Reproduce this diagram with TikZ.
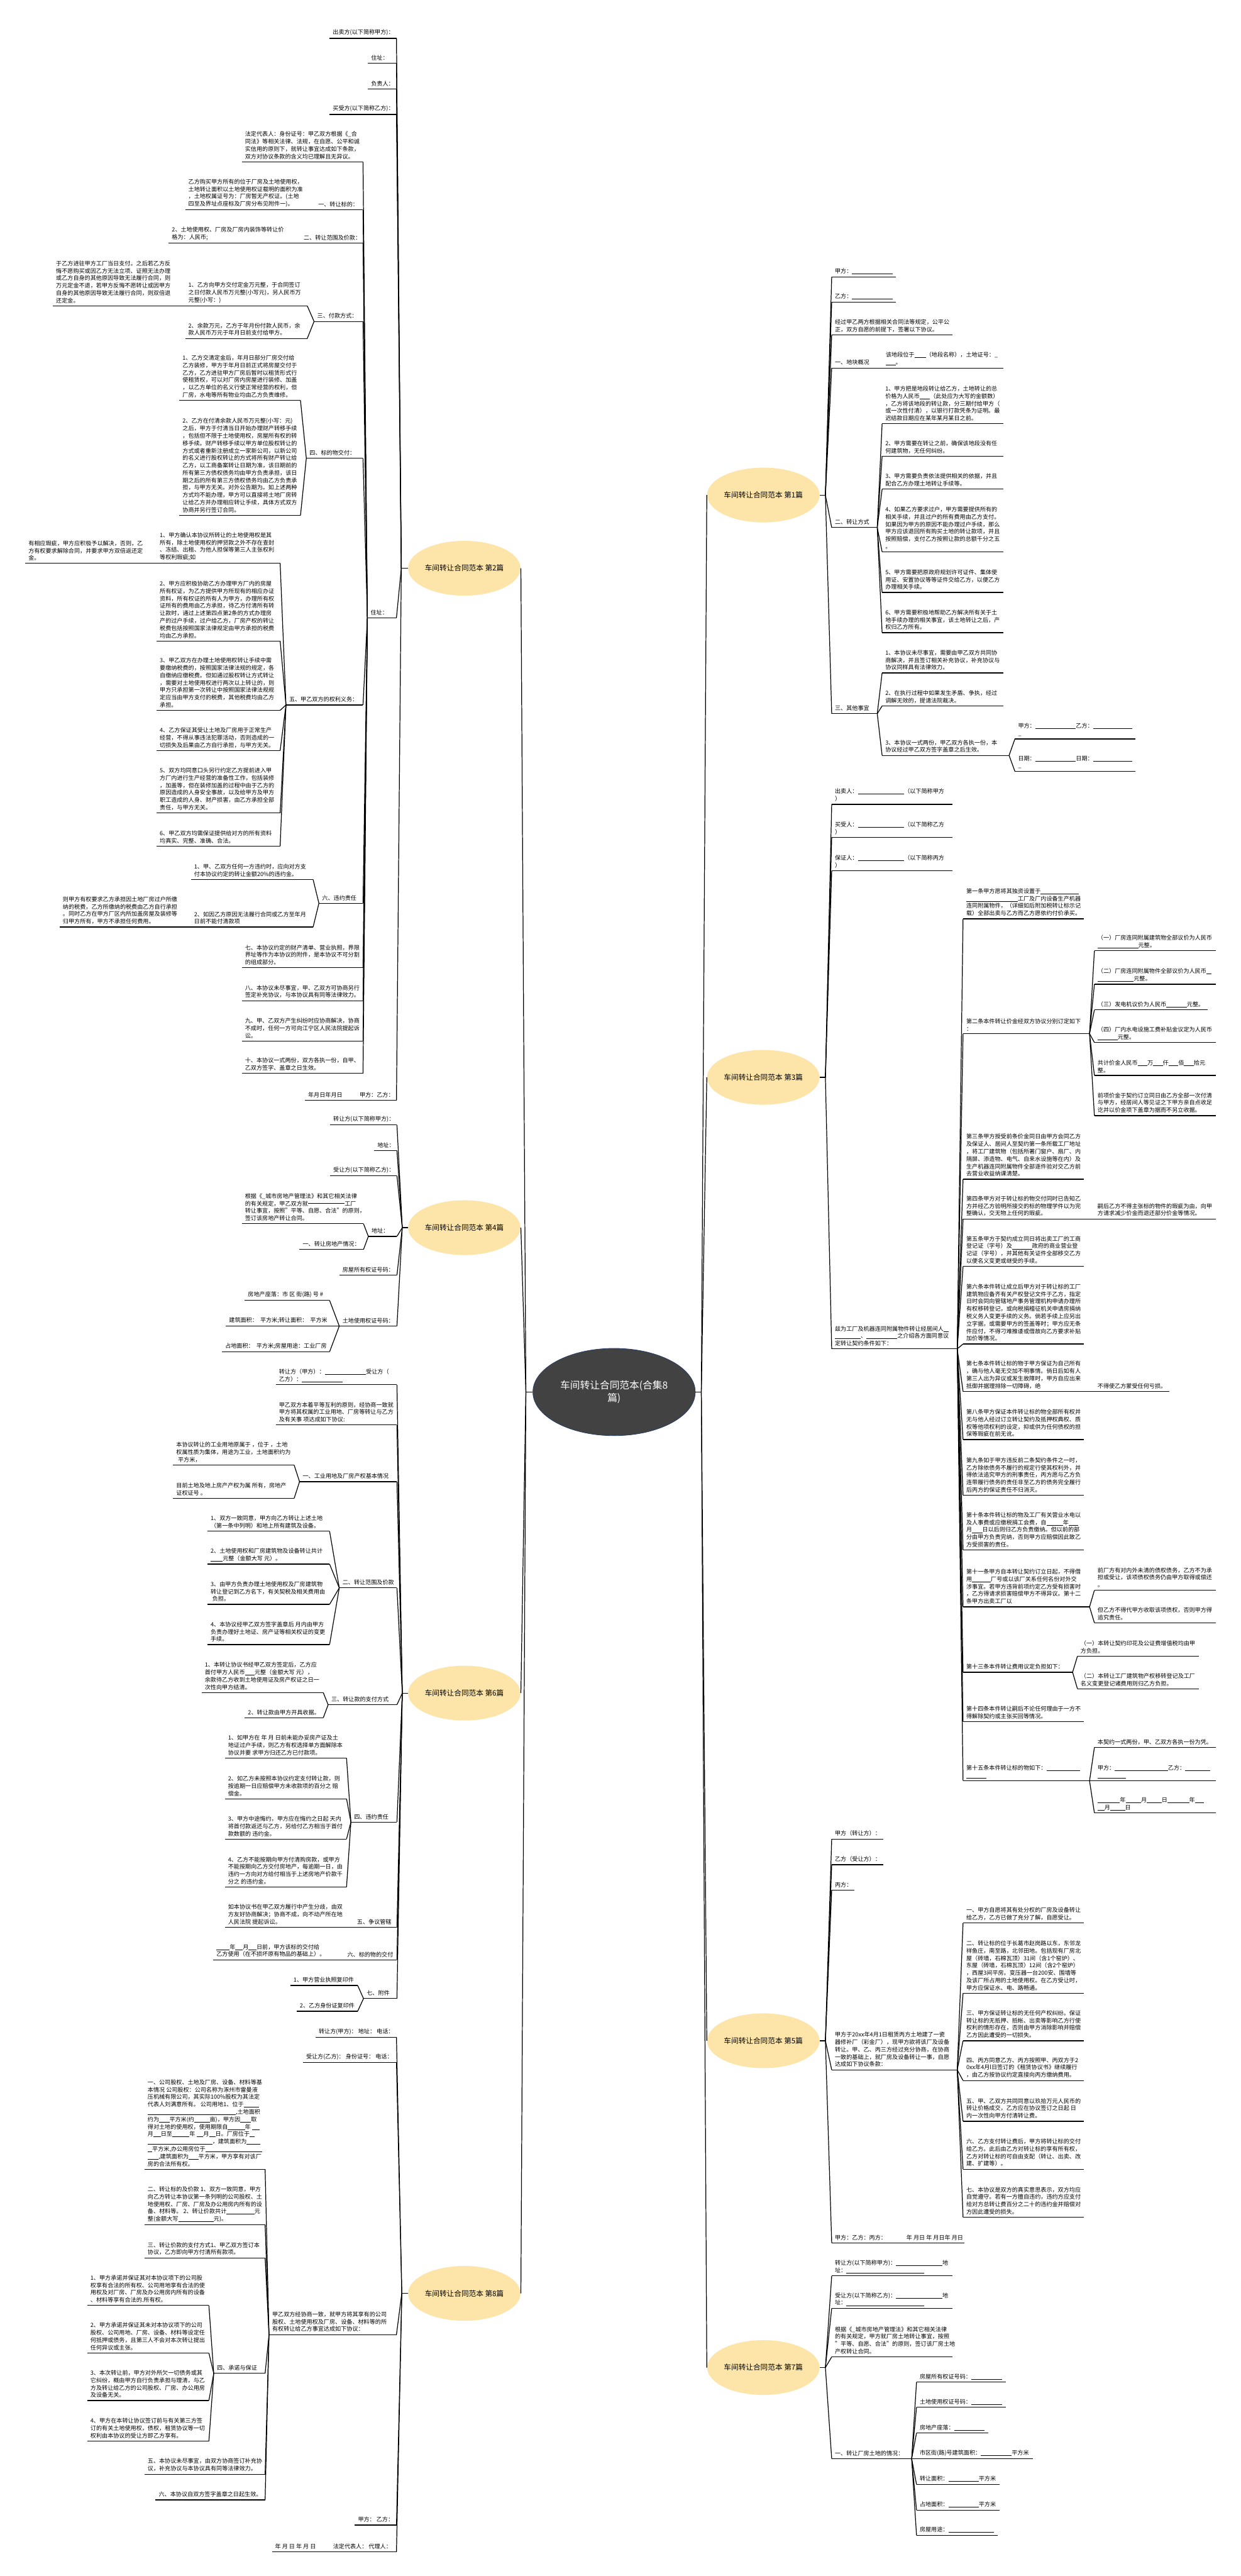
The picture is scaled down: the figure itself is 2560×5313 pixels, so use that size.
\documentclass[tikz,border=0pt]{standalone}
\usepackage{fontspec}
\setmainfont{Noto Sans CJK SC}
\usetikzlibrary{shapes.geometric}
\definecolor{byel}{RGB}{253,229,170}
\definecolor{cdark}{RGB}{66,66,66}
\definecolor{cbord}{RGB}{40,60,100}
\newcommand\blk[1]{\rule[-0.12em]{#1em}{0.06em}}
\newcommand\lfn[5]{\coordinate (#1L) at (#2,#4);\coordinate (#1R) at (#3,#4);\node[txt] (#1) at (#2+6,#4-5) {#5};\draw[ln] (#1L) -- (#1R);}
\newcommand\cnL[2]{\draw[ln] (#1) -- (#2R);}
\newcommand\cnR[2]{\draw[ln] (#1) -- (#2L);}
\begin{document}
\begin{tikzpicture}[x=0.1mm,y=-0.1mm,
 txt/.style={anchor=south west,align=left,inner sep=0pt,font=\fontsize{3.36pt}{4.35pt}\selectfont},
 ln/.style={line width=0.45pt,black},
 branch/.style={ellipse,fill=byel,draw=none,minimum width=23.2mm,minimum height=11.3mm,inner sep=0pt,font=\fontsize{4.3pt}{5.2pt}\selectfont},
 central/.style={ellipse,fill=cdark,draw=cbord,line width=0.3pt,minimum width=33.5mm,minimum height=18mm,inner sep=0pt,text=white,align=center,font=\fontsize{5.8pt}{7.2pt}\selectfont}]
\fill[white] (0,0) rectangle (2560,5313);
\useasboundingbox (0,0) rectangle (2560,5313);

% ---------- central ----------
\node[central] (c) at (1267,2871) {车间转让合同范本(合集8\\篇)};
\coordinate (cJL) at (1085,2871);
\coordinate (cJR) at (1447,2871);
\node[branch] (b2) at (958,1172) {车间转让合同范本 第2篇};
\node[branch] (b4) at (958,2532) {车间转让合同范本 第4篇};
\node[branch] (b6) at (958,3492) {车间转让合同范本 第6篇};
\node[branch] (b8) at (958,4730) {车间转让合同范本 第8篇};
\node[branch] (b1) at (1575,1021) {车间转让合同范本 第1篇};
\node[branch] (b3) at (1575,2222) {车间转让合同范本 第3篇};
\node[branch] (b5) at (1575,4209) {车间转让合同范本 第5篇};
\node[branch] (b7) at (1575,4883) {车间转让合同范本 第7篇};
\draw[ln] (c.west) -- (cJL);
\draw[ln] (c.east) -- (cJR);
\foreach \b in {b2,b4,b6,b8} {\draw[ln] (cJL) -- (\b.east);}
\foreach \b in {b1,b3,b5,b7} {\draw[ln] (cJR) -- (\b.west);}

% ---------- 第2篇 ----------
\coordinate (b2J) at (828,1172);
\draw[ln] (b2.west) -- (b2J);
\lfn{p2a}{680}{818}{79}{出卖方(以下简称甲方)：}
\lfn{p2b}{759}{818}{130}{住址：}
\lfn{p2c}{759}{818}{184}{负责人：}
\lfn{p2d}{680}{818}{236}{买受方(以下简称乙方)：}
\lfn{p2e}{758}{818}{1274}{住址：}
\lfn{p2f}{629}{818}{2269}{年月日年月日\hspace{3em}甲方：乙方：}
\foreach \n in {p2a,p2b,p2c,p2d,p2e,p2f} {\cnL{b2J}{\n}}

\lfn{q1}{499}{749}{334}{法定代表人：身份证号：甲乙双方根据《\_合\\同法》等相关法律、法规，在自愿、公平和诚\\实信用的原则下，就转让事宜达成如下条款，\\双方对协议条款的含义均已理解且无异议。}
\lfn{q2}{650}{749}{433}{一、转让标的：}
\lfn{q2a}{382}{650}{433}{乙方购买甲方所有的位于厂房及土地使用权，\\土地转让面积以土地使用权证载明的面积为准\\，土地权属证号为：厂房暂无产权证。(土地\\四至及界址点座标及厂房分布见附件一)。}
\lfn{q3}{620}{749}{501}{二、转让范围及价款：}
\lfn{q3a}{348}{620}{501}{2、土地使用权、厂房及厂房内装饰等转让价\\格为：人民币;}
\lfn{q4}{648}{749}{663}{三、付款方式：}
\lfn{q4a}{382}{634}{631}{1、乙方向甲方交付定金万元整，于合同签订\\之日付款人民币万元整(小写元)，另人民币万\\元整(小写：)}
\lfn{q4a1}{109}{382}{631}{于乙方进驻甲方工厂当日支付。之后若乙方反\\悔不愿购买或因乙方无法立项、证照无法办理\\或乙方自身的其他原因导致无法履行合同，则\\万元定金不退，若甲方反悔不愿转让或因甲方\\自身的其他原因导致无法履行合同，则双倍退\\还定金。}
\lfn{q4b}{382}{634}{698}{2、余款万元，乙方于年月份付款人民币，余\\款人民币万元于年月日前支付给甲方。}
\lfn{q5}{632}{749}{945}{四、标的物交付：}
\lfn{q5a}{370}{620}{826}{1、乙方交清定金后，年月日部分厂房交付给\\乙方装修，甲方于年月日前正式将房屋交付于\\乙方，乙方进驻甲方厂房后暂时以租赁形式行\\使租赁权，可以对厂房内房屋进行装修、加盖\\，以乙方单位的名义行使正常经营的权利，但\\厂房，水电等所有物业均由乙方负责维修。}
\lfn{q5b}{370}{620}{1063}{2、乙方在付清余款人民币万元整(小写：元)\\之后，甲方于付清当日开始办理财产转移手续\\，包括但不限于土地使用权，房屋所有权的转\\移手续。财产转移手续以甲方单位股权转让的\\方式或者重新注册成立一家新公司，以新公司\\的名义进行股权转让的方式将所有财产转让给\\乙方，以工商备案转让日期为准，该日期前的\\所有第三方债权债务均由甲方负责承担，该日\\期之后的所有第三方债权债务均由乙方负责承\\担，与甲方无关。对外公告期为。如上述两种\\方式均不能办理，甲方可以直接将土地厂房转\\让给乙方并办理相应转让手续，具体方式双方\\协商并另行签订合同。}
\lfn{q6}{590}{749}{1454}{五、甲乙双方的权利义务：}
\lfn{q6a}{323}{578}{1162}{1、甲方确认本协议所转让的土地使用权是其\\所有，除土地使用权的押贷款之外不存在查封\\、冻结、出租、为他人担保等第三人主张权利\\等权利瑕疵;如}
\lfn{q6a1}{52}{323}{1162}{有相应瑕疵，甲方应积极予以解决，否则，乙\\方有权要求解除合同，并要求甲方双倍返还定\\金。}
\lfn{q6b}{323}{578}{1322}{2、甲方应积极协助乙方办理甲方厂内的房屋\\所有权证，为乙方提供甲方所现有的相应办证\\资料，所有权证的所有人为甲方，办理所有权\\证所有的费用由乙方承担，待乙方付清所有转\\让款时，通过上述第四点第2条的方式办理房\\产的过户手续，过户给乙方，厂房产权的转让\\税费包括按照国家法律规定由甲方承担的税费\\均由乙方承担。}
\lfn{q6c}{323}{578}{1465}{3、甲乙双方在办理土地使用权转让手续中需\\要缴纳税费的，按照国家法律法规的规定，各\\自缴纳应缴税费。但如通过股权转让方式转让\\，需要对土地使用权进行两次以上转让的，则\\甲方只承担第一次转让中按照国家法律法规规\\定应当由甲方支付的税费，其他税费均由乙方\\承担。}
\lfn{q6d}{323}{578}{1548}{4、乙方保证其受让土地及厂房用于正常生产\\经营，不得从事违法犯罪活动，否则造成的一\\切损失及后果由乙方自行承担，与甲方无关。}
\lfn{q6e}{323}{578}{1677}{5、双方均同意口头另行约定乙方提前进入甲\\方厂内进行生产经营的准备性工作，包括装修\\，加盖等，但在装修加盖的过程中由于乙方的\\原因造成的人身安全事故，以及给甲方及甲方\\职工造成的人身、财产损害，由乙方承担全部\\责任，与甲方无关。}
\lfn{q6f}{323}{578}{1745}{6、甲乙双方均需保证提供给对方的所有资料\\均真实、完整、准确、合法。}
\lfn{q7}{658}{749}{1863}{六、违约责任}
\lfn{q7a}{394}{646}{1814}{1、甲、乙双方任何一方违约时，应向对方支\\付本协议约定的转让金额20\%的违约金。}
\lfn{q7b}{394}{646}{1912}{2、如因乙方原因无法履行合同或乙方至年月\\日前不能付清款项}
\lfn{q7b1}{123}{394}{1912}{则甲方有权要求乙方承担因土地厂房过户所缴\\纳的税费，乙方所缴纳的税费由乙方自行承担\\。同时乙方在甲方厂区内所加盖房屋及装修等\\归甲方所有，甲方不承担任何费用。}
\lfn{q8}{499}{749}{1996}{七、本协议约定的财产清单、营业执照，界限\\界址等作为本协议的附件，是本协议不可分割\\的组成部分。}
\lfn{q9}{499}{749}{2064}{八、本协议未尽事宜，甲、乙双方可协商另行\\签定补充协议，与本协议具有同等法律效力。}
\lfn{q10}{499}{749}{2147}{九、甲、乙双方产生纠纷时应协商解决，协商\\不成时，任何一方可向江宁区人民法院提起诉\\讼。}
\lfn{q11}{499}{749}{2214}{十、本协议一式两份，双方各执一份，自甲、\\乙双方签字、盖章之日生效。}
\foreach \n in {q1,q2,q3,q4,q5,q6,q7,q8,q9,q10,q11} {\cnL{p2eL}{\n}}
\cnL{q2L}{q2a}
\cnL{q3L}{q3a}
\cnL{q4L}{q4a}
\cnL{q4L}{q4b}
\cnL{q4aL}{q4a1}
\cnL{q5L}{q5a}
\cnL{q5L}{q5b}
\foreach \n in {q6a,q6b,q6c,q6d,q6e,q6f} {\cnL{q6L}{\n}}
\cnL{q6aL}{q6a1}
\cnL{q7L}{q7a}
\cnL{q7L}{q7b}
\cnL{q7bL}{q7b1}

% ---------- 第1篇 ----------
\coordinate (b1J) at (1703,1021);
\draw[ln] (b1.east) -- (b1J);
\lfn{r1}{1716}{1848}{571}{甲方：\blk{7.1}}
\lfn{r2}{1716}{1848}{623}{乙方：\blk{7.1}}
\lfn{r3}{1716}{1965}{691}{经过甲乙两方根据相关合同法等规定，公平公\\正，双方自愿的前提下，签署以下协议。}
\lfn{r4}{1716}{1821}{759}{一、地块概况}
\lfn{r4a}{1821}{2070}{759}{该地段位于\blk{2}（地段名称），土地证号：\_\\\blk{1.7}。}
\lfn{r5}{1716}{1810}{1088}{二、转让方式}
\lfn{r5a}{1820}{2070}{874}{1、甲方把是地段转让给乙方，土地转让的总\\价格为人民币\blk{1.8}（此处应为大写的金额数）\\，乙方将该地段的转让款，分三期付给甲方（\\或一次性付清），以银行打款凭条为证明。最\\迟结款日期应在某年某月某日之前。}
\lfn{r5b}{1820}{2070}{941}{2、甲方需要在转让之前，确保该地段没有任\\何建筑物，无任何纠纷。}
\lfn{r5c}{1820}{2070}{1009}{3、甲方需要负责依法提供相关的依据，并且\\配合乙方办理土地转让手续等。}
\lfn{r5d}{1820}{2070}{1138}{4、如果乙方要求过户，甲方需要提供所有的\\相关手续，并且过户的所有费用由乙方支付。\\如果因为甲方的原因不能办理过户手续，那么\\甲方应该退回所有购买土地的转让款项，并且\\按照赔偿，支付乙方按照让款的总额千分之五\\。}
\lfn{r5e}{1820}{2070}{1222}{5、甲方需要把原政府规划许可证件、集体使\\用证、安置协议等等证件交给乙方，以便乙方\\办理相关手续。}
\lfn{r5f}{1820}{2070}{1305}{6、甲方需要积极地帮助乙方解决所有关于土\\地手续办理的相关事宜，该土地转让之后，产\\权归乙方所有。}
\lfn{r6}{1716}{1810}{1472}{三、其他事宜}
\lfn{r6a}{1820}{2070}{1388}{1、本协议未尽事宜，需要由甲乙双方共同协\\商解决，并且签订相关补充协议，补充协议与\\协议同样具有法律效力。}
\lfn{r6b}{1820}{2070}{1456}{2、在执行过程中如果发生矛盾、争执，经过\\调解无效的，提请法院裁决。}
\lfn{r6c}{1820}{2082}{1558}{3、本协议一式两份，甲乙双方各执一份，本\\协议经过甲乙双方签字盖章之后生效。}
\lfn{r6c1}{2094}{2342}{1524}{甲方：\blk{7.1}乙方：\blk{6.8}\\\_}
\lfn{r6c2}{2094}{2342}{1591}{日期：\blk{7.1}日期：\blk{6.8}\\\_}
\foreach \n in {r1,r2,r3,r4,r5,r6} {\cnR{b1J}{\n}}
\cnR{r4R}{r4a}
\foreach \n in {r5a,r5b,r5c,r5d,r5e,r5f} {\cnR{r5R}{\n}}
\foreach \n in {r6a,r6b,r6c} {\cnR{r6R}{\n}}
\cnR{r6cR}{r6c1}
\cnR{r6cR}{r6c2}

% ---------- 第3篇 ----------
\coordinate (b3J) at (1703,2222);
\draw[ln] (b3.east) -- (b3J);
\lfn{s1}{1716}{1965}{1659}{出卖人：\blk{8.1}（以下简称甲方\\）}
\lfn{s2}{1716}{1965}{1727}{买受人：\blk{8.1}（以下简称乙方\\）}
\lfn{s3}{1716}{1965}{1796}{保证人：\blk{8.1}（以下简称丙方\\）}
\lfn{s4}{1716}{1975}{2782}{兹为工厂及机器连同附属物件转让经居间人\blk{0.9}\\\blk{4.5}、\blk{5.4}之介绍各方面同意议\\定转让契约条件如下：}
\foreach \n in {s1,s2,s3,s4} {\cnR{b3J}{\n}}
\lfn{s4a}{1987}{2236}{1895}{第一条甲方愿将其独资设置于\blk{6.7}\\\blk{9}工厂及厂内设备生产机器\\连同附属物件，（详细如后附加税转让标示记\\载）全部出卖与乙方而乙方愿依约付价承买。}
\lfn{s4b}{1987}{2248}{2132}{第二条本件转让价金经双方协议分别订定如下\\：}
\lfn{s4b1}{2258}{2509}{1961}{（一）厂房连同附属建筑物全部议价为人民币\\\blk{7.1}元整。}
\lfn{s4b2}{2258}{2509}{2030}{（二）厂房连同附属物件全部议价为人民币\blk{0.9}\\\blk{6.3}元整。}
\lfn{s4b3}{2258}{2492}{2083}{（三）发电机议价为人民币\blk{3.6}元整。}
\lfn{s4b4}{2258}{2509}{2150}{（四）厂内水电设施工费补贴金议定为人民币\\\blk{3.5}元整。}
\lfn{s4b5}{2258}{2509}{2218}{共计价金人民币\blk{1.7}万\blk{1.7}仟\blk{1.7}佰\blk{1.7}拾元\\整。}
\lfn{s4b6}{2258}{2509}{2301}{前项价金于契约订立同日由乙方全部一次付清\\与甲方，经居间人等见证之下甲方亲自点收足\\讫并以价金项下盖章为据而不另立收据。}
\lfn{s4c}{1987}{2236}{2432}{第三条甲方授受前条价金同日由甲方会同乙方\\及保证人、居间人至契约第一条所载工厂地址\\，将工厂建筑物（包括所著门窗户、扇厂、内\\隔屏、添造物、电气、自来水设施等在内）及\\生产机器连同附属物件全部逐件验对交乙方前\\去营业收益纳课清楚。}
\lfn{s4d}{1987}{2248}{2514}{第四条甲方对于转让标的物交付同时已告知乙\\方并经乙方验明所接交的标的物理学件以为完\\整确认，交无物上任何的瑕疵。}
\lfn{s4d1}{2258}{2509}{2514}{嗣后乙方不得主张标的物件的瑕疵为由，向甲\\方请求减少价金而退还部分价金等情况。}
\lfn{s4e}{1987}{2236}{2612}{第五条甲方于契约成立同日将出卖工厂的工商\\登记证（字号）及\blk{3.5}政府的商业营业登\\记证（字号），并其他有关证件全部移交乙方\\以便名义变更或继受的手续。}
\lfn{s4f}{1987}{2236}{2772}{第六条本件转让成立后甲方对于转让标的工厂\\建筑物应备齐有关产权登记文件于乙方，指定\\日时会同向管辖地产事务管理机构申请办理所\\有权移转登记，或向税捐稽征机关申请房捐纳\\税义务人变更手续的义务。倘若手续上应另出\\立字据，或需要甲方的签盖等时；甲方应无条\\件应付，不得刁难推诿或借故向乙方要求补贴\\加价等情况。}
\lfn{s4g}{1987}{2248}{2870}{第七条本件转让标的物于甲方保证为自己所有\\，确与他人毫无交加不明事情。倘日后如有人\\第三人出为异议或发生故障时，甲方自应出来\\抵御并据理排除一切障碍，绝}
\lfn{s4g1}{2258}{2413}{2870}{不得使乙方蒙受任何亏损。}
\lfn{s4h}{1987}{2236}{2969}{第八条甲方保证本件转让标的物全部所有权并\\无与他人经过订立转让契约及抵押权典权、质\\权等他项权利的设定，抑或供为任何债权的担\\保等瑕疵在前无讹。}
\lfn{s4i}{1987}{2236}{3084}{第九条如于甲方违反前二条契约条件之一时，\\乙方除依债务不履行的规定行使其权利外，并\\得依法追究甲方的刑事责任，丙方愿与乙方负\\连带履行债务的责任非至乙方的债务完全履行\\后丙方的保证责任不归消灭。}
\lfn{s4j}{1987}{2236}{3197}{第十条本件转让标的物及工厂有关营业水电以\\及人事费或应缴税捐工会费，自\blk{2.9}年\blk{1.6}\\月\blk{1.8}日以后则归乙方负责缴纳。但以前的部\\分由甲方负责完纳，否则甲方应赔偿因此致乙\\方受损害的责任。}
\lfn{s4k}{1987}{2248}{3314}{第十一条甲方自本转让契约订立日起，不得借\\用\blk{3.3}厂号或以该厂关系任何名份对外交\\涉事宜。若甲方违背前项约定乙方受有损害时\\，乙方得请求损害赔偿甲方不得异议。第十二\\条甲方出卖工厂以}
\lfn{s4k1}{2258}{2509}{3280}{前厂方有对内外未清的债权债务，乙方不为承\\担或受让，该项债权债务仍由甲方取得或偿还\\。}
\lfn{s4k2}{2258}{2509}{3347}{但乙方不得代甲方收取该项债权，否则甲方得\\追究责任。}
\lfn{s4l}{1987}{2213}{3449}{第十三条本件转让费用议定负担如下：}
\lfn{s4l1}{2223}{2473}{3416}{（一）本转让契约印花及公证费增值税均由甲\\方负担。}
\lfn{s4l2}{2223}{2473}{3483}{（二）本转让工厂建筑物产权移转登记及工厂\\名义变更登记诸费用则归乙方负担。}
\lfn{s4m}{1987}{2236}{3551}{第十四条本件转让嗣后不论任何理由于一方不\\得解除契约或主张买回等情况。}
\lfn{s4n}{1987}{2248}{3673}{第十五条本件转让标的物如下：\blk{5.9}\\\blk{3.5}}
\lfn{s4n1}{2258}{2509}{3604}{本契约一式两份，甲、乙双方各执一份为凭。}
\lfn{s4n2}{2258}{2509}{3673}{甲方：\blk{9.3}乙方：\blk{4.4}\\\blk{4.9}}
\lfn{s4n3}{2258}{2509}{3739}{\blk{3.9}年\blk{2.7}月\blk{2.6}日\blk{3.8}年\blk{1.6}\\\blk{1.2}月\blk{2.6}日}
\foreach \n in {s4a,s4b,s4c,s4d,s4e,s4f,s4g,s4h,s4i,s4j,s4k,s4l,s4m,s4n} {\cnR{s4R}{\n}}
\foreach \n in {s4b1,s4b2,s4b3,s4b4,s4b5,s4b6} {\cnR{s4bR}{\n}}
\cnR{s4dR}{s4d1}
\cnR{s4gR}{s4g1}
\cnR{s4kR}{s4k1}
\cnR{s4kR}{s4k2}
\cnR{s4lR}{s4l1}
\cnR{s4lR}{s4l2}
\foreach \n in {s4n1,s4n2,s4n3} {\cnR{s4nR}{\n}}

% ---------- 第4篇 ----------
\coordinate (b4J) at (830,2532);
\draw[ln] (b4.west) -- (b4J);
\lfn{t1}{681}{819}{2320}{转让方(以下简称甲方)：}
\lfn{t2}{772}{819}{2373}{地址：}
\lfn{t3}{681}{819}{2425}{受让方(以下简称乙方)：}
\lfn{t4}{760}{819}{2550}{地址：}
\lfn{t5}{700}{819}{2630}{房屋所有权证号码：}
\lfn{t6}{700}{819}{2735}{土地使用权证号码：}
\foreach \n in {t1,t2,t3,t4,t5,t6} {\cnL{b4J}{\n}}
\lfn{t4a}{499}{750}{2524}{根据《\_城市房地产管理法》和其它相关法律\\的有关规定，甲乙双方就\rule[0.38em]{6.4em}{0.05em}工厂\\转让事宜，按照"平等、自愿、合法"的原则，\\签订该房地产转让合同。}
\lfn{t4b}{618}{750}{2577}{一、转让房地产情况：}
\cnL{t4L}{t4a}
\cnL{t4L}{t4b}
\lfn{t6a}{505}{680}{2682}{房地产座落：市 区 街(路) 号 \#}
\lfn{t6b}{466}{690}{2735}{建筑面积：\ \ 平方米;转让面积：\ \ 平方米}
\lfn{t6c}{458}{680}{2788}{占地面积：\ \ 平方米;房屋用途：工业厂房}
\foreach \n in {t6a,t6b,t6c} {\cnL{t6L}{\n}}

% ---------- 第6篇 ----------
\coordinate (b6J) at (830,3492);
\draw[ln] (b6.west) -- (b6J);
\lfn{u1}{569}{819}{2856}{转让方（甲方）：\blk{7.2}受让方（\\乙方）：\blk{7.1}}
\lfn{u2}{569}{819}{2939}{甲乙双方本着平等互利的原则，经协商一致就\\甲方将其权属的工业用地、厂房等转让与乙方\\及有关事 项达成如下协议:}
\lfn{u3}{618}{819}{3056}{一、工业用地及厂房产权基本情况}
\lfn{u4}{700}{819}{3275}{二、转让范围及价款}
\lfn{u5}{677}{819}{3516}{三、转让款的支付方式}
\lfn{u6}{724}{819}{3758}{四、违约责任}
\lfn{u7}{730}{819}{3975}{五、争议管辖}
\lfn{u8}{710}{819}{4042}{六、标的物的交付}
\lfn{u9}{750}{819}{4122}{七、附件}
\foreach \n in {u1,u2,u3,u4,u5,u6,u7,u8,u9} {\cnL{b6J}{\n}}
\lfn{u3a}{357}{607}{3022}{本协议转让的工业用地原属于 ，位于 ，土地\\权属性质为集体，用途为工业，土地面积约为\\\hspace{0.3em}平方米，}
\lfn{u3b}{357}{607}{3090}{目前土地及地上房产产权为属 所有，房地产\\证权证号 。}
\cnL{u3L}{u3a}
\cnL{u3L}{u3b}
\lfn{u4a}{428}{680}{3158}{1、双方一致同意，甲方向乙方转让上述土地\\（第一条中列明）和地上所有建筑及设备。}
\lfn{u4b}{428}{680}{3226}{2、土地使用权和厂房建筑物及设备转让共计\\\blk{2.1}元整（金额大写 元）。}
\lfn{u4c}{428}{680}{3309}{3、由甲方负责办理土地使用权及厂房建筑物\\转让登记到乙方名下，有关契税及相关费用由\\\hspace{0.3em}负担。}
\lfn{u4d}{428}{680}{3392}{4、本协议经甲乙双方签字盖章后 月内由甲方\\负责办理好土地证、房产证等相关权证的变更\\手续。}
\foreach \n in {u4a,u4b,u4c,u4d} {\cnL{u4L}{\n}}
\lfn{u5a}{416}{667}{3491}{1、本转让协议书经甲乙双方签定后，乙方应\\首付甲方人民币\blk{1.7}元整（金额大写 元），\\余款待乙方收到土地使用证及房产权证之日一\\次性向甲方结清。}
\lfn{u5b}{505}{667}{3543}{2、转让款由甲方开具收据。}
\cnL{u5L}{u5a}
\cnL{u5L}{u5b}
\lfn{u6a}{464}{715}{3626}{1、如甲方在 年 月 日前未能办妥房产证及土\\地证过户手续，则乙方有权选择单方面解除本\\协议并要 求甲方归还乙方已付款项。}
\lfn{u6b}{464}{715}{3710}{2、如乙方未按照本协议约定支付转让款，则\\按逾期一日应赔偿甲方未收款项的百分之 赔\\偿金。}
\lfn{u6c}{464}{715}{3793}{3、甲方中途悔约，甲方应在悔约之日起 天内\\将首付款返还与乙方，另给付乙方相当于首付\\款数额的 违约金。}
\lfn{u6d}{464}{715}{3892}{4、乙方不能按期向甲方付清购房款，或甲方\\不能按期向乙方交付房地产，每逾期一日，由\\违约一方向对方给付相当于上述房地产价款千\\分之 的违约金。}
\foreach \n in {u6a,u6b,u6c,u6d} {\cnL{u6L}{\n}}
\lfn{u7a}{464}{730}{3975}{如本协议书在甲乙双方履行中产生分歧，由双\\方友好协商解决；协商不成，向不动产所在地\\人民法院 提起诉讼。}
\cnL{u7L}{u7a}
\lfn{u8a}{440}{710}{4042}{\blk{2.3}年\blk{1.3}月\blk{1.4}日前，甲方该标的交付给\\乙方使用（在不损坏原有物品的基础上）。}
\cnL{u8L}{u8a}
\lfn{u9a}{599}{738}{4095}{1、甲方营业执照复印件}
\lfn{u9b}{612}{738}{4148}{2、乙方身份证复印件}
\cnL{u9L}{u9a}
\cnL{u9L}{u9b}

% ---------- 第8篇 ----------
\coordinate (b8J) at (829,4730);
\draw[ln] (b8.west) -- (b8J);
\lfn{v1}{651}{818}{4202}{转让方(甲方)：~地址：~电话：}
\lfn{v2}{625}{818}{4254}{受让方(乙方)：~身份证号：~电话：}
\lfn{v3}{555}{818}{4815}{甲乙双方经协商一致，就甲方将其享有的公司\\股权、土地使用权及厂房、设备、材料等的所\\有权转让给乙方事宜达成如下协议：}
\lfn{v4}{732}{818}{5208}{甲方：~乙方：}
\lfn{v5}{561}{818}{5263}{年 月 日 年 月 日\hspace{3em}法定代表人：~代理人：}
\foreach \n in {v1,v2,v3,v4,v5} {\cnL{b8J}{\n}}
\lfn{v3a}{298}{547}{4474}{一、公司股权、土地及厂房、设备、材料等基\\本情况 公司股权：公司名称为涿州市雷曼液\\压机械有限公司，其实际100\%股权为其法定\\代表人刘满意所有。 公司用地1、位于\blk{2.7}\\\blk{15.4},土地面积\\约为\blk{1.8}平方米(约\blk{2.7}亩)，甲方因\blk{1.9}取\\得对土地的使用权，使用期限自\blk{3}年 \blk{1.3}\\月\blk{1.3}日至\blk{3}年 \blk{1.2}月\blk{1.1}日。厂房位于\blk{0.9}\\\blk{11.3}，建筑面积为\blk{2.4}\\\blk{0.8}平方米,办公用房位于\blk{9.9}\\\blk{1.9},建筑面积为\blk{1.7}平方米，甲方享有对该厂\\房的合法所有权。}
\lfn{v3b}{298}{547}{4589}{二、转让标的及价款 1、双方一致同意，甲方\\向乙方转让本协议第一条列明的公司股权、土\\地使用权、厂房、厂房及办公用房内所有的设\\备、材料等。 2、转让价款共计\blk{4.9}元\\整(金额大写\blk{6.2}元)。}
\lfn{v3c}{298}{547}{4657}{三、转让价款的支付方式1、甲乙双方签订本\\协议，乙方即向甲方付清所有款项。}
\lfn{v3d}{441}{547}{4895}{四、承诺与保证}
\lfn{v3e}{298}{547}{5103}{五、本协议未尽事宜，由双方协商签订补充协\\议，补充协议与本协议具有同等法律效力。}
\lfn{v3f}{321}{547}{5156}{六、本协议自双方签字盖章之日起生效。}
\foreach \n in {v3a,v3b,v3c,v3d,v3e,v3f} {\cnL{v3L}{\n}}
\lfn{v3d1}{180}{431}{4755}{1、甲方承诺并保证其对本协议项下的公司股\\权享有合法的所有权、公司用地享有合法的使\\用权及对厂房、厂房及办公用房内所有的设备\\、材料等享有合法的.所有权。}
\lfn{v3d2}{180}{431}{4853}{2、甲方承诺并保证其未对本协议项下的公司\\股权、公司用地、厂房、设备、材料等设定任\\何抵押或债务，且第三人不会对本次转让提出\\任何异议或主张。}
\lfn{v3d3}{180}{431}{4951}{3、本次转让前，甲方对外所欠一切债务或其\\它纠纷，概由甲方自行负责承担与理清，与乙\\方及转让给乙方的公司股权、厂房、办公用房\\及设备无关。}
\lfn{v3d4}{180}{431}{5035}{4、甲方在本转让协议签订前与有关第三方签\\订的有关土地使用权，债权，租赁协议等一切\\权利由本协议的受让方即乙方享有。}
\foreach \n in {v3d1,v3d2,v3d3,v3d4} {\cnL{v3dL}{\n}}

% ---------- 第5篇 ----------
\coordinate (b5J) at (1703,4209);
\draw[ln] (b5.east) -- (b5J);
\lfn{w1}{1716}{1822}{3793}{甲方（转让方）：}
\lfn{w2}{1716}{1822}{3846}{乙方（受让方）：}
\lfn{w3}{1716}{1763}{3898}{丙方：}
\lfn{w4}{1716}{1975}{4269}{甲方于20xx年4月1日租赁丙方土地建了一瓷\\器修补厂（彩金厂），现甲方欲将该厂及设备\\转让。甲、乙、丙三方经过充分协商，在协商\\一致的基础上，就厂房及设备转让一事，自愿\\达成如下协议条款：}
\lfn{w5}{1716}{1990}{4626}{甲方：乙方：丙方：\hspace{3.5em}年 月日 年 月日年 月日}
\foreach \n in {w1,w2,w3,w4,w5} {\cnR{b5J}{\n}}
\lfn{w4a}{1987}{2236}{3966}{一、甲方自愿将其有处分权的厂房及设备转让\\给乙方，乙方已做了充分了解，自愿受让。}
\lfn{w4b}{1987}{2236}{4111}{二、转让标的位于长葛市赵岗路以东，东邻龙\\祥鱼庄，南至路，北邻田地。包括现有厂房北\\屋（砖墙，石棉瓦顶）31间（含1个窑炉）、\\东屋（砖墙，石棉瓦顶）12间（含2个窑炉）\\，西屋3间平房。变压器一台200安、围墙等\\及该厂所占用的土地使用权。在乙方受让时，\\甲方应保证水、电、路畅通。}
\lfn{w4c}{1987}{2236}{4209}{三、甲方保证转让标的无任何产权纠纷。保证\\转让标的无抵押、抵帐、出卖等影响乙方行使\\权利的情形存在，否则由甲方消除影响并赔偿\\乙方因此遭受的一切损失。}
\lfn{w4d}{1987}{2236}{4291}{四、丙方同意乙方、丙方按照甲、丙双方于2\\0xx年4月l日签订的《租赁协议书》继续履行\\，由乙方按协议约定直接向丙方缴纳费用。}
\lfn{w4e}{1987}{2236}{4375}{五、甲、乙双方共同同意以玖拾万元人民币的\\转让价格成交，乙方应在协议签订之日起 日\\内一次性向甲方付清转让费。}
\lfn{w4f}{1987}{2236}{4474}{六、乙方支付转让费后，甲方将转让标的交付\\给乙方。此后由乙方对转让标的享有所有权，\\乙方对转让标的可自由支配（转让、出卖、改\\建、扩建等）。}
\lfn{w4g}{1987}{2236}{4573}{七、本协议是双方的真实意思表示，双方均应\\自觉遵守。若有一方擅自违约，违约方应支付\\给对方总转让费百分之二十的违约金并赔偿对\\方因此遭受的损失。}
\foreach \n in {w4a,w4b,w4c,w4d,w4e,w4f,w4g} {\cnR{w4R}{\n}}

% ---------- 第7篇 ----------
\coordinate (b7J) at (1703,4883);
\draw[ln] (b7.east) -- (b7J);
\lfn{x1}{1716}{1965}{4694}{转让方(以下简称甲方)：\blk{8.1}地\\址：\blk{13.6}}
\lfn{x2}{1716}{1965}{4761}{受让方(以下简称乙方)：\blk{8.1}地\\址：\blk{13.6}}
\lfn{x3}{1716}{1965}{4861}{根据《\_城市房地产管理法》和其它相关法律\\的有关规定，甲方就厂房土地转让事宜，按照\\"平等、自愿、合法"的原则，签订该厂房土地\\产权转让合同。}
\lfn{x4}{1716}{1881}{5071}{一、转让厂房土地的情况：}
\foreach \n in {x1,x2,x3,x4} {\cnR{b7J}{\n}}
\lfn{x4a}{1891}{2075}{4913}{房屋所有权证号码：\blk{5.4}}
\lfn{x4b}{1891}{2075}{4965}{土地使用权证号码：\blk{5.4}}
\lfn{x4c}{1891}{2039}{5018}{房地产座落：\blk{5.3}}
\lfn{x4d}{1891}{2131}{5071}{市区街(路)号建筑面积：\blk{5.4}平方米}
\lfn{x4e}{1891}{2063}{5124}{转让面积：\blk{5.3}平方米}
\lfn{x4f}{1891}{2063}{5177}{占地面积：\blk{5.3}平方米}
\lfn{x4g}{1891}{2059}{5229}{房屋用途：\blk{8}}
\foreach \n in {x4a,x4b,x4c,x4d,x4e,x4f,x4g} {\cnR{x4R}{\n}}
\end{tikzpicture}
\end{document}
